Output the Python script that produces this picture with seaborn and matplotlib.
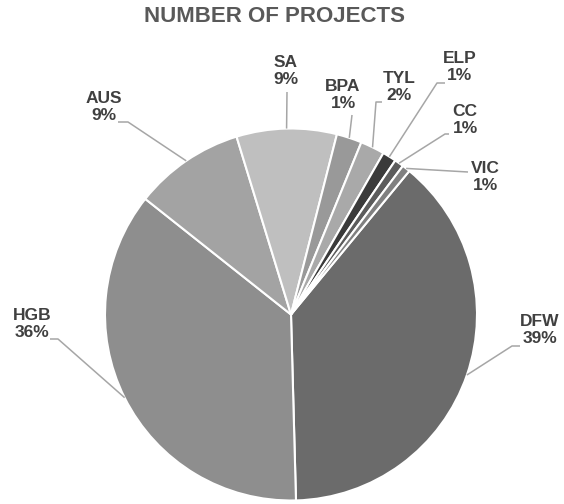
import numpy as np
import matplotlib
matplotlib.use("Agg")
import matplotlib.pyplot as plt
import seaborn as sns

# Dados (fatia em % do total de projetos)
regioes = ["DFW", "HGB", "AUS", "SA", "BPA", "TYL", "ELP", "CC", "VIC"]
valores = [38.6, 36.1, 9.6, 8.7, 2.2, 2.1, 1.2, 0.8, 0.7]
rotulos_pct = ["39%", "36%", "9%", "9%", "1%", "2%", "1%", "1%", "1%"]

cores = ["#6b6b6b", "#8e8e8e", "#a3a3a3", "#bfbfbf", "#999999",
         "#a9a9a9", "#3a3a3a", "#5c5c5c", "#808080"]

# posicoes dos rotulos e das linhas de chamada (pixels da imagem)
pos_rotulo = {
    "DFW": (540, 330), "HGB": (32, 324), "AUS": (104, 107), "SA": (286, 71),
    "BPA": (343, 95), "TYL": (399, 87), "ELP": (460, 67), "CC": (465, 120),
    "VIC": (485, 177),
}
chamada = {
    "DFW": [(512, 346), (520, 346)], "HGB": [(58, 339), (50, 339)],
    "AUS": [(128, 122), (118, 122)], "SA": [(287, 92)], "BPA": [(352, 115)],
    "TYL": [(376, 102), (382, 102)], "ELP": [(437, 83), (445, 83)],
    "CC": [(445, 134), (449, 134)], "VIC": [(468, 172)],
}

sns.set_theme(style="white")
plt.rcParams["font.family"] = ["Liberation Sans", "DejaVu Sans"]

W, H = 564, 504
cx, cy, r = 291, 314.5, 186


def px(x, y):
    return (x - cx) / r, (cy - y) / r


fig = plt.figure(figsize=(W / 100, H / 100), dpi=100)
ax = fig.add_axes([0, 0, 1, 1])

wedges, _ = ax.pie(valores, colors=cores, startangle=50.5, counterclock=False,
                   wedgeprops=dict(edgecolor="white", linewidth=1.5))

for w, nome, pct in zip(wedges, regioes, rotulos_pct):
    meio = np.deg2rad((w.theta1 + w.theta2) / 2)
    xs = [np.cos(meio)]
    ys = [np.sin(meio)]
    for p in chamada[nome]:
        a, b = px(*p)
        xs.append(a)
        ys.append(b)
    ax.plot(xs, ys, color="#a6a6a6", linewidth=1.1, solid_capstyle="butt")
    tx, ty = px(*pos_rotulo[nome])
    ax.text(tx, ty, f"{nome}\n{pct}", ha="center", va="center",
            multialignment="center", fontsize=12.5, fontweight="bold",
            color="#404040", linespacing=1.15)

ax.set_xlim(-cx / r, (W - cx) / r)
ax.set_ylim((cy - H) / r, cy / r)
ax.set_aspect("auto")
ax.axis("off")

tx, ty = px(275, 16)
ax.text(tx, ty, "NUMBER OF PROJECTS", ha="center", va="center",
        fontsize=16, fontweight="bold", color="#595959")

fig.savefig("out.png", dpi=100)
